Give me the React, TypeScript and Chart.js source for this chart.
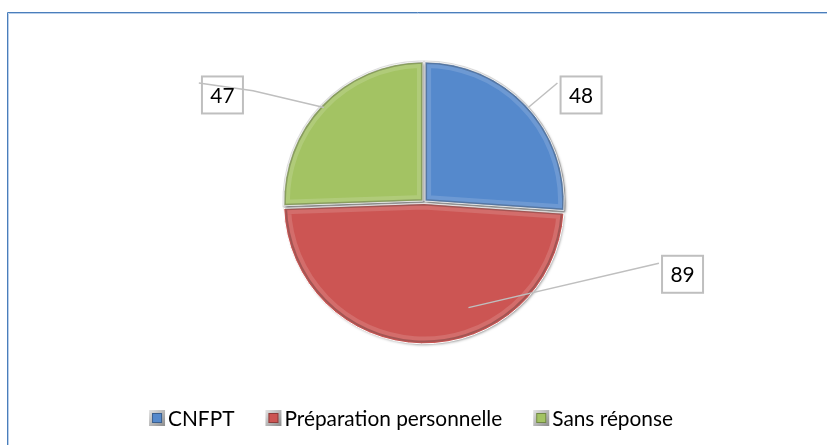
import React, { useEffect, useRef } from "react";
import { Chart, registerables } from "chart.js";

Chart.register(...registerables);

const categories = ["CNFPT", "Préparation personnelle", "Sans réponse"];
const values = [48, 89, 47];
const valueLabels = ["48", "89", "47"];
const colors = ["#5589CC", "#CC5553", "#A3C363"];

// label boxes and leader lines, in units of pie radius relative to the pie centre (style only)
const boxCenters = [
  [1.13, -0.77],
  [1.86, 0.52],
  [-1.45, -0.77],
];
const leaderPoints = [
  [[0.75, -0.68], [0.96, -0.856]],
  [[0.32, 0.76], [1.69, 0.44]],
  [[-0.72, -0.68], [-1.23, -0.8], [-1.62, -0.856]],
];

const FONT = "Lato, 'Open Sans', sans-serif";
const BOX_W = 41;
const BOX_H = 37;

function fitFontSize(ctx: CanvasRenderingContext2D, text: string, target: number) {
  ctx.font = `100px ${FONT}`;
  const w = ctx.measureText(text).width;
  return (100 * target) / w;
}

function arcPath(ctx: CanvasRenderingContext2D, arc: any) {
  const off = (arc.options.offset || 0) / 4;
  const half = (arc.startAngle + arc.endAngle) / 2;
  const cx = arc.x + Math.cos(half) * off;
  const cy = arc.y + Math.sin(half) * off;
  ctx.beginPath();
  ctx.moveTo(cx, cy);
  ctx.arc(cx, cy, arc.outerRadius, arc.startAngle, arc.endAngle);
  ctx.closePath();
}

const framePlugin = {
  id: "frame",
  beforeDraw(chart: any) {
    const ctx = chart.ctx as CanvasRenderingContext2D;
    ctx.save();
    ctx.fillStyle = "#ffffff";
    ctx.fillRect(0, 0, chart.width, chart.height);
    ctx.strokeStyle = "#4A7EBB";
    ctx.lineWidth = 1;
    ctx.beginPath();
    ctx.moveTo(7.5, chart.height + 5);
    ctx.lineTo(7.5, 12.5);
    ctx.lineTo(chart.width + 5, 12.5);
    ctx.stroke();
    ctx.strokeStyle = "#B9CFEA";
    ctx.beginPath();
    ctx.moveTo(8.5, chart.height + 5);
    ctx.lineTo(8.5, 13.5);
    ctx.lineTo(chart.width + 5, 13.5);
    ctx.stroke();
    ctx.restore();
  },
};

const shadowPlugin = {
  id: "pieShadow",
  beforeDatasetsDraw(chart: any) {
    const ctx = chart.ctx as CanvasRenderingContext2D;
    const meta = chart.getDatasetMeta(0);
    ctx.save();
    meta.data.forEach((arc: any) => {
      arcPath(ctx, arc);
      ctx.strokeStyle = "#dedede";
      ctx.lineWidth = 3;
      ctx.stroke();
    });
    ctx.shadowColor = "rgba(0,0,0,0.5)";
    ctx.shadowBlur = 3;
    ctx.shadowOffsetX = 1.5;
    ctx.shadowOffsetY = 2;
    meta.data.forEach((arc: any) => {
      arcPath(ctx, arc);
      ctx.fillStyle = "#f2f2f2";
      ctx.fill();
    });
    ctx.restore();
  },
};

const bevelPlugin = {
  id: "bevel",
  afterDatasetsDraw(chart: any) {
    const ctx = chart.ctx as CanvasRenderingContext2D;
    const meta = chart.getDatasetMeta(0);
    meta.data.forEach((arc: any) => {
      ctx.save();
      arcPath(ctx, arc);
      ctx.clip();
      arcPath(ctx, arc);
      ctx.lineWidth = 12;
      ctx.strokeStyle = "rgba(255,255,255,0.14)";
      ctx.stroke();
      ctx.lineWidth = 4;
      ctx.strokeStyle = "rgba(0,0,0,0.22)";
      ctx.stroke();
      ctx.restore();
    });
  },
};

const labelPlugin = {
  id: "valueLabels",
  afterDatasetsDraw(chart: any) {
    const ctx = chart.ctx as CanvasRenderingContext2D;
    const meta = chart.getDatasetMeta(0);
    const size = fitFontSize(ctx, "Préparation personnelle", 218);
    meta.data.forEach((arc: any, i: number) => {
      const r = arc.outerRadius;
      const cx = arc.x;
      const cy = arc.y;
      ctx.save();
      ctx.strokeStyle = "#BFBFBF";
      ctx.lineWidth = 1.5;
      ctx.beginPath();
      leaderPoints[i].forEach((p, k) => {
        const px = cx + p[0] * r;
        const py = cy + p[1] * r;
        if (k === 0) ctx.moveTo(px, py);
        else ctx.lineTo(px, py);
      });
      ctx.stroke();
      const bx = cx + boxCenters[i][0] * r;
      const by = cy + boxCenters[i][1] * r;
      if (i !== 2) {
        ctx.fillStyle = "#ffffff";
        ctx.fillRect(bx - BOX_W / 2, by - BOX_H / 2, BOX_W, BOX_H);
      }
      ctx.strokeStyle = "#BFBFBF";
      ctx.lineWidth = 2;
      ctx.strokeRect(bx - BOX_W / 2, by - BOX_H / 2, BOX_W, BOX_H);
      ctx.fillStyle = "#000000";
      ctx.font = `${size}px ${FONT}`;
      ctx.textAlign = "center";
      ctx.textBaseline = "middle";
      ctx.fillText(valueLabels[i], bx, by + 1);
      ctx.restore();
    });
  },
};

const legendPlugin = {
  id: "customLegend",
  afterDraw(chart: any) {
    const ctx = chart.ctx as CanvasRenderingContext2D;
    const size = fitFontSize(ctx, "Préparation personnelle", 218);
    ctx.save();
    ctx.font = `${size}px ${FONT}`;
    const marker = 16;
    const gap = 3;
    const spacing = 31;
    const widths = categories.map((c) => ctx.measureText(c).width);
    const total =
      widths.reduce((a, w) => a + marker + gap + w, 0) + spacing * (categories.length - 1);
    const centerX = chart.width * 0.497;
    const cy = chart.height - 27;
    let x = centerX - total / 2;
    categories.forEach((c, i) => {
      const my = cy - marker / 2;
      const g = ctx.createLinearGradient(x, my, x + marker, my + marker);
      g.addColorStop(0, "#e4e4e4");
      g.addColorStop(1, "#8c8c8c");
      ctx.fillStyle = g;
      ctx.fillRect(x, my, marker, marker);
      ctx.fillStyle = colors[i];
      ctx.fillRect(x + 3, my + 3, marker - 6, marker - 6);
      ctx.strokeStyle = "rgba(0,0,0,0.3)";
      ctx.lineWidth = 1;
      ctx.strokeRect(x + 3.5, my + 3.5, marker - 7, marker - 7);
      ctx.fillStyle = "#000000";
      ctx.textAlign = "left";
      ctx.textBaseline = "middle";
      ctx.fillText(c, x + marker + gap, cy + 1);
      x += marker + gap + widths[i] + spacing;
    });
    ctx.restore();
  },
};

export default function App() {
  const ref = useRef<HTMLCanvasElement>(null);
  useEffect(() => {
    const canvas = ref.current;
    if (!canvas) return;
    const chart = new Chart(canvas, {
      type: "pie",
      data: {
        labels: categories,
        datasets: [
          {
            data: values,
            backgroundColor: colors,
            borderColor: "#ffffff",
            borderWidth: 1,
            offset: 6,
            radius: 139,
          } as any,
        ],
      },
      options: {
        responsive: false,
        animation: false,
        layout: { padding: { left: 30, right: 9, top: 50, bottom: 91 } },
        plugins: {
          legend: { display: false },
          tooltip: { enabled: false },
        },
      },
      plugins: [framePlugin, shadowPlugin, bevelPlugin, labelPlugin, legendPlugin],
    });
    return () => chart.destroy();
  }, []);
  return (
    <div style={{ position: "fixed", left: 0, top: 0, width: 827, height: 445 }}>
      <canvas ref={ref} width={827} height={445} style={{ display: "block" }} />
    </div>
  );
}
